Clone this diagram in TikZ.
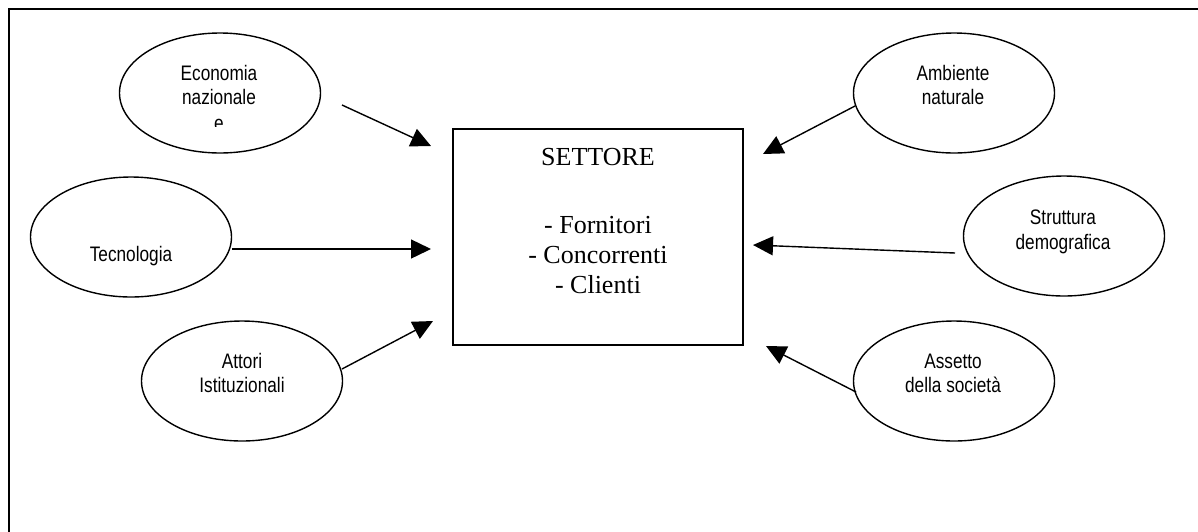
\documentclass[tikz,border=0pt]{standalone}
\usepackage{fontspec}
\setmainfont{Liberation Serif}
\newfontfamily\lbl[FakeStretch=0.82]{Liberation Sans}
\usetikzlibrary{shapes.geometric,arrows.meta}

\begin{document}
\begin{tikzpicture}[x=1pt,y=-1pt,
  oval/.style={draw,ellipse,line width=1.4pt,minimum width=201pt,minimum height=120pt,inner sep=0pt},
  lab/.style={font=\lbl\fontsize{21}{24}\selectfont,anchor=base,inner sep=0pt},
  sect/.style={font=\fontsize{26}{30}\selectfont,anchor=base,inner sep=0pt},
  feed/.style={line width=1.4pt,-{Triangle[length=20pt,width=19pt]}},
  frame/.style={line width=2pt}
]
\useasboundingbox (0,0) rectangle (1198,531);

% outer frame, running past the right and bottom edges
\begin{scope}
  \clip (0,0) rectangle (1198,531);
  \draw[frame] (9,9) rectangle (1230,560);
\end{scope}

% central box
\node[draw,line width=1.4pt,minimum width=290pt,minimum height=216pt,inner sep=0pt] (settore) at (598,237) {};
\node[sect] (settore-t) at (598,165) {SETTORE};
\node[sect] (forn) at (598,233) {- Fornitori};
\node[sect] (conc) at (598,263) {- Concorrenti};
\node[sect] (cli) at (598,293) {- Clienti};

% surrounding factors
\node[oval] (econ) at (220,93) {};
\node[oval] (amb) at (954,93) {};
\node[oval] (tec) at (131,237) {};
\node[oval] (att) at (242,381) {};
\node[oval] (str) at (1064,236) {};
\node[oval] (ass) at (954,381) {};

\node[lab] (econ-a) at (219,80) {Economia};
\node[lab] (econ-b) at (219,104) {nazionale};
\begin{scope}
  % the third line is cut off by the text area of the oval
  \clip (150,110) rectangle (290,126.5);
  \node[lab] (econ-c) at (219,130) {e};
\end{scope}
\node[lab] (amb-a) at (953,80) {Ambiente};
\node[lab] (amb-b) at (953,104) {naturale};
\node[lab] (tec-a) at (131,261) {Tecnologia};
\node[lab] (att-a) at (242,368) {Attori};
\node[lab] (att-b) at (242,392) {Istituzionali};
\node[lab] (str-a) at (1063,224) {Struttura};
\node[lab] (str-b) at (1063,249) {demografica};
\node[lab] (ass-a) at (953,368) {Assetto};
\node[lab] (ass-b) at (953,392) {della società};

% arrow ends
\coordinate (econ-s) at (342,105);
\coordinate (econ-e) at (431,146);
\coordinate (tec-s) at (tec.east |- 0,249);
\coordinate (tec-e) at (431,249);
\coordinate (att-s) at (342,369);
\coordinate (att-e) at (433,321);
\coordinate (amb-s) at (855,106);
\coordinate (amb-e) at (763,154);
\coordinate (str-s) at (955,253);
\coordinate (str-e) at (753,245);
\coordinate (ass-s) at (856,392);
\coordinate (ass-e) at (766,346);

\draw[feed] (econ-s) -- (econ-e);
\draw[feed] (tec-s) -- (tec-e);
\draw[feed] (att-s) -- (att-e);
\draw[feed] (amb-s) -- (amb-e);
\draw[feed] (str-s) -- (str-e);
\draw[feed] (ass-s) -- (ass-e);
\end{tikzpicture}
\end{document}
